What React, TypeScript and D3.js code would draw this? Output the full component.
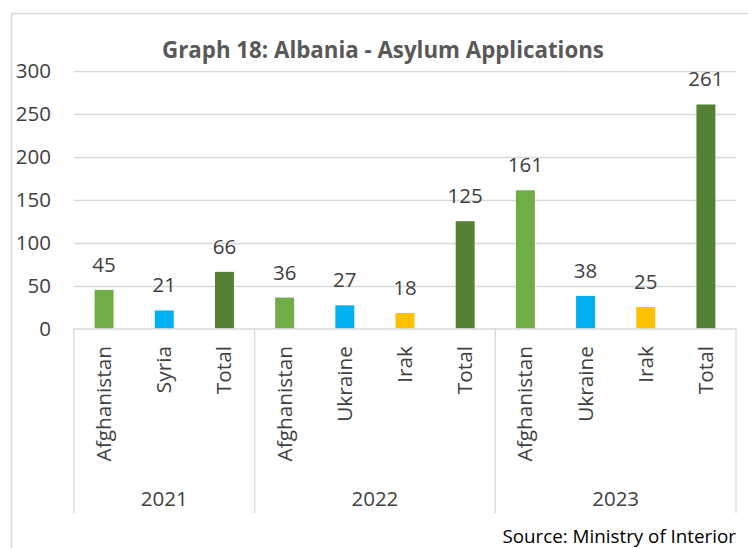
import React, { useEffect, useRef } from 'react';
import * as d3 from 'd3';

// values
const years = ['2021', '2022', '2023'];
const countries = [
  ['Afghanistan', 'Syria', 'Total'],
  ['Afghanistan', 'Ukraine', 'Irak', 'Total'],
  ['Afghanistan', 'Ukraine', 'Irak', 'Total'],
];
const values = [
  [45, 21, 66],
  [36, 27, 18, 125],
  [161, 38, 25, 261],
];
const yTicks = [0, 50, 100, 150, 200, 250, 300];

const colors: Record<string, string> = {
  Afghanistan: '#70AD47',
  Syria: '#00B0F0',
  Ukraine: '#00B0F0',
  Irak: '#FFC000',
  Total: '#548235',
};

const W = 748;
const H = 548;
const FONT = "'Open Sans', sans-serif";

export default function App() {
  const ref = useRef<SVGSVGElement>(null);

  useEffect(() => {
    const svg = d3.select(ref.current);
    svg.selectAll('*').remove();

    const rows = years.flatMap((yr, gi) =>
      countries[gi].map((c, i) => ({ key: yr + '-' + c, year: yr, country: c, value: values[gi][i] }))
    );

    const left = 74, right = 736, top = 71, bottom = 328.5;

    const x = d3.scaleBand<string>()
      .domain(rows.map(r => r.key))
      .range([left, right])
      .paddingInner(0.685)
      .paddingOuter(0.3425);

    const y = d3.scaleLinear().domain([0, 300]).range([bottom, top]);

    // frame
    svg.append('rect')
      .attr('x', 11.5).attr('y', 13.5)
      .attr('width', W + 20).attr('height', H + 20)
      .attr('fill', 'none').attr('stroke', '#D9D9D9').attr('stroke-width', 1.5);

    // title
    svg.append('text')
      .attr('x', 383).attr('y', 58)
      .attr('text-anchor', 'middle')
      .attr('font-family', FONT).attr('font-weight', 'bold').attr('font-size', 22.3)
      .attr('fill', '#595959')
      .text('Graph 18: Albania - Asylum Applications');

    // grid
    svg.append('g').selectAll('line')
      .data(yTicks.filter(t => t > 0))
      .join('line')
      .attr('x1', left).attr('x2', right)
      .attr('y1', d => Math.round(y(d)) + 0.5).attr('y2', d => Math.round(y(d)) + 0.5)
      .attr('stroke', '#D9D9D9').attr('stroke-width', 1.3);

    // y labels
    svg.append('g').selectAll('text')
      .data(yTicks)
      .join('text')
      .attr('x', 51).attr('y', d => y(d))
      .attr('dy', '0.36em')
      .attr('text-anchor', 'end')
      .attr('font-family', FONT).attr('font-size', 20.5)
      .attr('fill', '#404040')
      .text(d => d);

    // bars
    svg.append('g').selectAll('rect')
      .data(rows)
      .join('rect')
      .attr('x', d => x(d.key)!)
      .attr('width', x.bandwidth())
      .attr('y', d => y(d.value))
      .attr('height', d => bottom - y(d.value))
      .attr('fill', d => colors[d.country]);

    // value labels
    svg.append('g').selectAll('text')
      .data(rows)
      .join('text')
      .attr('x', d => x(d.key)! + x.bandwidth() / 2)
      .attr('y', d => y(d.value) - 18)
      .attr('text-anchor', 'middle')
      .attr('font-family', FONT).attr('font-size', 20.5)
      .attr('fill', '#404040')
      .text(d => d.value);

    // axis line
    svg.append('line')
      .attr('x1', left).attr('x2', right)
      .attr('y1', bottom + 0.5).attr('y2', bottom + 0.5)
      .attr('stroke', '#D9D9D9').attr('stroke-width', 1.3);

    // group separators
    const step = x.step();
    const bounds = [0];
    countries.forEach(c => bounds.push(bounds[bounds.length - 1] + c.length));
    svg.append('g').selectAll('line')
      .data(bounds)
      .join('line')
      .attr('x1', b => left + b * step).attr('x2', b => left + b * step)
      .attr('y1', bottom).attr('y2', 513)
      .attr('stroke', '#D9D9D9').attr('stroke-width', 1.3);

    // category labels
    svg.append('g').selectAll('text')
      .data(rows)
      .join('text')
      .attr('transform', d => `translate(${x(d.key)! + x.bandwidth() / 2 + 7},346) rotate(-90)`)
      .attr('text-anchor', 'end')
      .attr('font-family', FONT).attr('font-size', 20.8)
      .attr('fill', '#404040')
      .text(d => d.country);

    // year labels
    svg.append('g').selectAll('text')
      .data(years)
      .join('text')
      .attr('x', (yr, i) => left + (bounds[i] + bounds[i + 1]) / 2 * step)
      .attr('y', 506)
      .attr('text-anchor', 'middle')
      .attr('font-family', FONT).attr('font-size', 20.5)
      .attr('fill', '#404040')
      .text(yr => yr);

    // source
    svg.append('text')
      .attr('x', 736).attr('y', 543)
      .attr('text-anchor', 'end')
      .attr('font-family', FONT).attr('font-size', 18.8)
      .attr('fill', '#000000')
      .text('Source: Ministry of Interior');
  }, []);

  return (
    <svg ref={ref} width={W} height={H}
      style={{ position: 'absolute', left: 0, top: 0, background: '#fff' }} />
  );
}
